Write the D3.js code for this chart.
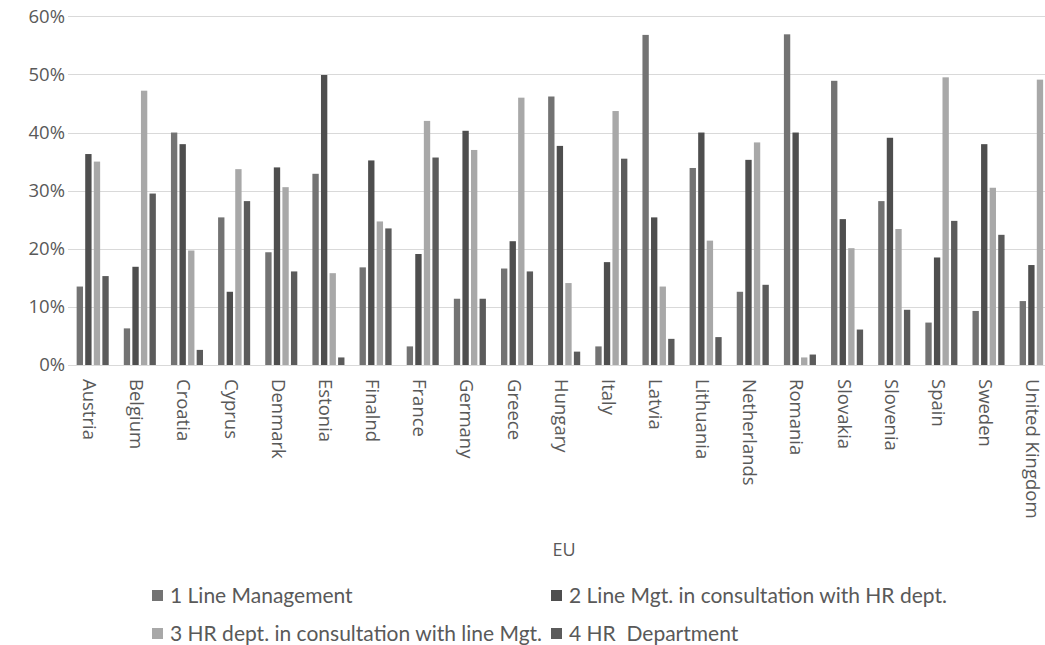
<!DOCTYPE html>
<html>
<head>
<meta charset="utf-8">
<script src="https://cdn.jsdelivr.net/npm/d3@7"></script>
<style>
  html, body { margin: 0; padding: 0; background: #ffffff; overflow: hidden; }
  svg { display: block; }
</style>
</head>
<body>
<svg id="chart" width="1045" height="645"></svg>
<script>
const countries = ["Austria","Belgium","Croatia","Cyprus","Denmark","Estonia","Finalnd","France","Germany","Greece","Hungary","Italy","Latvia","Lithuania","Netherlands","Romania","Slovakia","Slovenia","Spain","Sweden","United Kingdom"];
const seriesNames = ["1 Line Management","2 Line Mgt. in consultation with HR dept.","3 HR dept. in consultation with line Mgt.","4 HR  Department"];
const lineManagement   = [13.5, 6.3, 40.0, 25.4, 19.4, 32.9, 16.8, 3.2, 11.4, 16.6, 46.2, 3.2, 56.8, 33.9, 12.6, 56.9, 48.9, 28.2, 7.3, 9.3, 11.0];
const lineMgtWithHR    = [36.3, 16.9, 38.0, 12.6, 34.0, 49.9, 35.2, 19.1, 40.3, 21.3, 37.7, 17.7, 25.4, 40.0, 35.3, 40.0, 25.1, 39.1, 18.5, 38.0, 17.2];
const hrWithLineMgt    = [35.0, 47.2, 19.7, 33.7, 30.6, 15.8, 24.7, 42.0, 37.0, 46.0, 14.1, 43.7, 13.5, 21.4, 38.3, 1.3, 20.1, 23.4, 49.5, 30.5, 49.1];
const hrDepartment     = [15.3, 29.5, 2.6, 28.2, 16.1, 1.3, 23.5, 35.7, 11.4, 16.1, 2.3, 35.5, 4.5, 4.8, 13.8, 1.8, 6.1, 9.5, 24.8, 22.4, 22.9];
const yTicks = [0, 10, 20, 30, 40, 50, 60];
const xAxisTitle = "EU";

const seriesValues = [lineManagement, lineMgtWithHR, hrWithLineMgt, hrDepartment];
const colors = ["#737373", "#4e4e4e", "#a8a8a8", "#5b5b5b"];

const svg = d3.select("#chart");
const plotLeft = 69.1, step = 47.15, plotRight = plotLeft + step * countries.length;
const yTop = 16.3, yBottom = 365;

const x0 = d3.scaleBand().domain(countries).range([plotLeft, plotRight]).paddingInner(0.32).paddingOuter(0.16);
const x1 = d3.scaleBand().domain(d3.range(4)).range([0, x0.bandwidth()]).paddingInner(0.26).paddingOuter(0);
const y = d3.scaleLinear().domain([0, 60]).range([yBottom, yTop]);

// gridlines
svg.append("g").selectAll("line").data(yTicks).join("line")
  .attr("x1", 68).attr("x2", 1045)
  .attr("y1", d => Math.round(y(d)) + 0.5).attr("y2", d => Math.round(y(d)) + 0.5)
  .attr("stroke", "#d9d9d9").attr("stroke-width", 1);

// y axis labels
const yAxis = d3.axisLeft(y).tickValues(yTicks).tickFormat(d => d + "%").tickSize(0).tickPadding(0);
const yg = svg.append("g").attr("transform", "translate(65,0)").call(yAxis);
yg.select(".domain").remove();
yg.selectAll("text").attr("font-family", "'Open Sans', sans-serif").attr("font-size", 18.5).attr("fill", "#595959");

// bars
const groups = svg.append("g").selectAll("g").data(countries).join("g")
  .attr("transform", d => `translate(${x0(d)},0)`);
groups.selectAll("rect").data((c, i) => seriesValues.map((s, k) => ({k, v: s[i]}))).join("rect")
  .attr("x", d => x1(d.k))
  .attr("width", x1.bandwidth())
  .attr("y", d => y(d.v))
  .attr("height", d => y(0) - y(d.v))
  .attr("fill", d => colors[d.k]);

// x axis labels
const xAxis = d3.axisBottom(x0).tickSize(0).tickPadding(0);
const xg = svg.append("g").attr("transform", `translate(0,${yBottom})`).call(xAxis);
xg.select(".domain").remove();
xg.selectAll("text")
  .attr("font-family", "'Open Sans', sans-serif").attr("font-size", 18.5).attr("fill", "#595959")
  .attr("text-anchor", "start")
  .attr("transform", "translate(-3,14) rotate(90)")
  .attr("x", 0).attr("y", 0).attr("dy", "0.35em");

// x axis title
svg.append("text").attr("x", (plotLeft + plotRight) / 2).attr("y", 556)
  .attr("text-anchor", "middle")
  .attr("font-family", "'Open Sans', sans-serif").attr("font-size", 18).attr("fill", "#595959")
  .text(xAxisTitle);

// legend
const legendPos = [[152, 596], [551, 596], [152, 634], [551, 634]];
const lg = svg.append("g").selectAll("g").data(seriesNames).join("g")
  .attr("transform", (d, i) => `translate(${legendPos[i][0]},${legendPos[i][1]})`);
lg.append("rect").attr("x", 0).attr("y", -6).attr("width", 11).attr("height", 11)
  .attr("fill", (d, i) => colors[i]);
lg.append("text").attr("x", 18).attr("y", 0).attr("dy", "0.35em")
  .attr("font-family", "Lato, sans-serif").attr("font-size", 21).attr("fill", "#595959")
  .style("white-space", "pre")
  .text(d => d);
</script>
</body>
</html>
